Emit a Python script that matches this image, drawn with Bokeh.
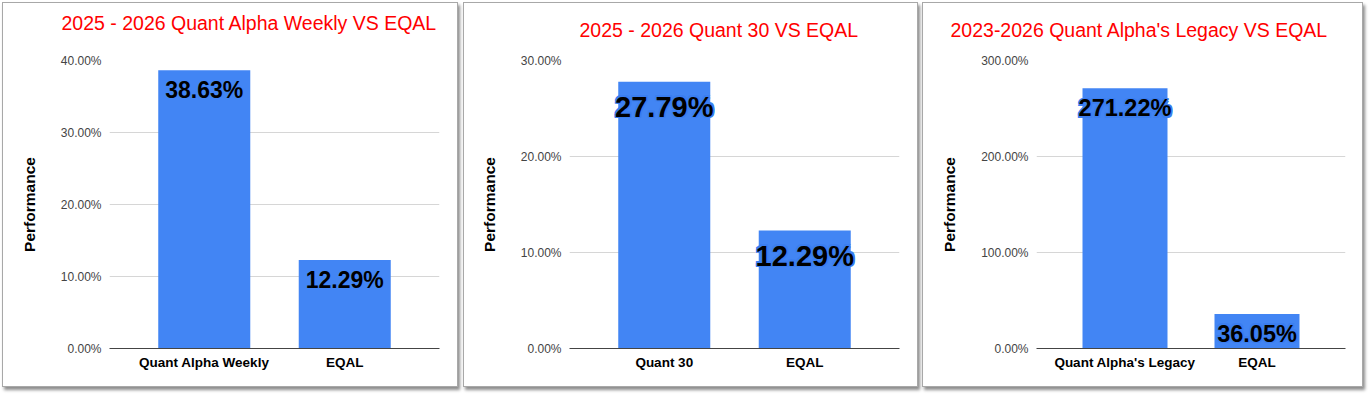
from bokeh.plotting import figure
from bokeh.layouts import row
from bokeh.models import FactorRange, Range1d, FixedTicker, PrintfTickFormatter, ColumnDataSource, Title
from bokeh.core.properties import value
from bokeh.embed import file_html
from bokeh.resources import INLINE

# ---- data ----
titles = [
    "2025 - 2026 Quant Alpha Weekly VS EQAL",
    "2025 - 2026 Quant 30 VS EQAL",
    "2023-2026 Quant Alpha's Legacy VS EQAL",
]
categories_1 = ["Quant Alpha Weekly", "EQAL"]
values_1 = [38.63, 12.29]
categories_2 = ["Quant 30", "EQAL"]
values_2 = [27.79, 12.29]
categories_3 = ["Quant Alpha's Legacy", "EQAL"]
values_3 = [271.22, 36.05]
y_ticks_1 = [0, 10, 20, 30, 40]
y_ticks_2 = [0, 10, 20, 30]
y_ticks_3 = [0, 100, 200, 300]
y_axis_title = "Performance"

FONT = "Liberation Sans"
BLUE = "#4285f4"
HALO = "#3b7ef0"


def make_panel(cats, vals, ticks, title, width, mb_left, mb_right, pad, bar_w,
               lbl_size, lbl_off, halo, t_off, spacer):
    p = figure(
        width=width, height=385,
        x_range=FactorRange(*cats, range_padding=pad, range_padding_units="absolute"),
        y_range=Range1d(0, ticks[-1]),
        output_backend="svg", toolbar_location=None,
        min_border_left=mb_left, min_border_right=mb_right,
        min_border_top=57, min_border_bottom=40,
        background_fill_color="white", border_fill_color="white",
    )
    p.styles = {"border": "1px solid #a8a8a8",
                "box-shadow": "2px 3px 3px rgba(0,0,0,0.45)"}
    p.outline_line_color = None
    # spacer between frame and title (closest to the frame), then the title
    p.add_layout(Title(text=" ", text_font_size="1px", standoff=spacer,
                       text_color="white"), "above")
    p.add_layout(Title(text=title, align="left", offset=t_off, standoff=10,
                       text_font_size="19.5px", text_color="#ff0000",
                       text_font=FONT, text_font_style="normal"), "above")

    src = ColumnDataSource(dict(x=cats, top=vals, label=[f"{v:.2f}%" for v in vals]))
    p.vbar(x="x", top="top", width=bar_w, source=src, color=BLUE, line_color=None)
    common = dict(x="x", y="top", text="label", source=src, text_align="center",
                  text_baseline="alphabetic", text_font_size=lbl_size,
                  text_font_style="bold", text_font=value(FONT))
    if halo:
        r = 1.5
        for dx, dy in [(-r, 0), (r, 0), (0, -r), (0, r), (-r, -r), (r, r), (-r, r), (r, -r)]:
            p.text(x_offset=dx, y_offset=lbl_off + dy, text_color=HALO, **common)
    p.text(y_offset=lbl_off, text_color="black", **common)

    p.xgrid.grid_line_color = None
    p.ygrid.grid_line_color = "#d6d6d6"
    p.yaxis.ticker = FixedTicker(ticks=ticks)
    p.yaxis.formatter = PrintfTickFormatter(format="%.2f%%")
    p.yaxis.axis_line_color = None
    p.yaxis.major_tick_line_color = None
    p.yaxis.minor_tick_line_color = None
    p.yaxis.major_tick_out = 0
    p.yaxis.major_label_standoff = 8
    p.yaxis.major_label_text_font = FONT
    p.yaxis.major_label_text_font_size = "12px"
    p.yaxis.major_label_text_color = "#444444"
    p.yaxis.axis_label = y_axis_title
    p.yaxis.axis_label_text_font = FONT
    p.yaxis.axis_label_text_font_size = "15.5px"
    p.yaxis.axis_label_text_font_style = "bold"
    p.yaxis.axis_label_text_color = "black"
    p.yaxis.axis_label_standoff = 20

    p.xaxis.axis_line_color = "#444444"
    p.xaxis.major_tick_line_color = None
    p.xaxis.major_tick_out = 0
    p.xaxis.major_label_standoff = 6
    p.xaxis.major_label_text_font = FONT
    p.xaxis.major_label_text_font_size = "13.5px"
    p.xaxis.major_label_text_font_style = "bold"
    p.xaxis.major_label_text_color = "black"
    return p


p1 = make_panel(categories_1, values_1, y_ticks_1, titles[0], 456, 106, 20, 0.1745, 0.655,
                "23px", 20, False, -48, 18.5)
p2 = make_panel(categories_2, values_2, y_ticks_2, titles[1], 455, 105, 20, 0.1745, 0.655,
                "29px", 25, True, 10, 12)
p3 = make_panel(categories_3, values_3, y_ticks_3, titles[2], 441, 113, 19, 0.1705, 0.644,
                "23.5px", 20, True, -86, 12)
p2.margin = (0, 0, 0, 5)
p3.margin = (0, 0, 0, 4)

layout = row(p1, p2, p3, margin=(2, 0, 0, 2))
open("out.html", "w").write(file_html(layout, INLINE))
